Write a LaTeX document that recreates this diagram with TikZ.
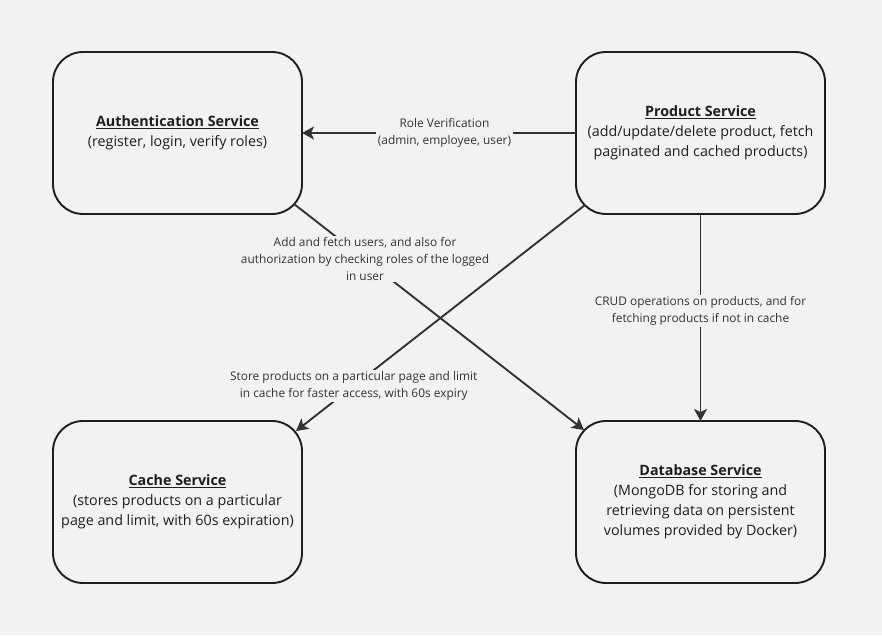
\documentclass[tikz,border=0pt]{standalone}
\usepackage{fontspec}
\setmainfont{Open Sans}
\definecolor{canvasgray}{RGB}{242,242,242}
\definecolor{inkdark}{RGB}{30,30,30}
\definecolor{inkgray}{RGB}{51,51,51}
\usetikzlibrary{positioning,arrows.meta,calc}

\begin{document}
\begin{tikzpicture}[
  x=1pt, y=1pt,
  service/.style={draw=inkdark, line width=1.9pt, rounded corners=30pt, fill=canvasgray, minimum width=249pt, minimum height=162pt, outer sep=0pt, align=center, text=inkdark, font=\fontsize{14.3}{20}\selectfont},
  note/.style={fill=canvasgray, inner sep=1.5pt, align=center, text=inkgray, font=\fontsize{11.9}{17}\selectfont},
  flow/.style={-{Stealth[length=12pt, width=13pt, inset=3pt]}, line width=1.9pt, inkgray}
]
\fill[canvasgray] (0,0) rectangle (882,635);
\useasboundingbox (0,0) rectangle (882,635);

\node[service] (auth) at (177.5,502) {\textbf{\underline{Authentication Service}}\\(register, login, verify roles)};
\node[service, right=274pt of auth] (product) {\textbf{\underline{Product Service}}\\(add/update/delete product, fetch\\paginated and cached products)};
\node[service, below=207pt of auth] (cache) {\textbf{\underline{Cache Service}}\\(stores products on a particular\\page and limit, with 60s expiration)};
\node[service, below=207pt of product] (db) {\textbf{\underline{Database Service}}\\(MongoDB for storing and\\retrieving data on persistent\\volumes provided by Docker)};

\draw[flow] (product.west) -- node[note, pos=0.48] {Role Verification\\(admin, employee, user)} (auth.east);
\draw[flow] ([shift={(-8,10)}]auth.south east) -- node[note, pos=0.245] {Add and fetch users, and also for\\authorization by checking roles of the logged\\in user} ([shift={(8,-9)}]db.north west);
\draw[flow] ([shift={(9,9)}]product.south west) -- node[note, pos=0.8] {Store products on a particular page and limit\\in cache for faster access, with 60s expiry} ([shift={(-6,-10)}]cache.north east);
\draw[flow] (product.south) -- node[note, pos=0.47] {CRUD operations on products, and for\\fetching products if not in cache} (db.north);
\end{tikzpicture}
\end{document}
